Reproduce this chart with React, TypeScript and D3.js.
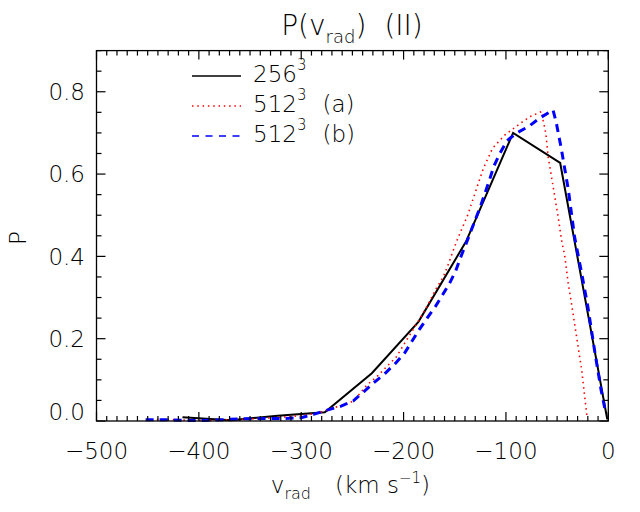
import React from 'react';
import * as d3 from 'd3';

const W = 640;
const H = 512;
const plot = { left: 96.5, right: 608.3, top: 50.6, bottom: 421 };

// 256^3 run
const v256 = [-416, -369, -323, -277, -231, -185.5, -139, -93, -47, -1];
const p256 = [0.009, 0.002, 0.013, 0.021, 0.116, 0.241, 0.436, 0.7, 0.627, 0.004];

// 512^3 (a)
const v512a = [-441, -420, -400, -380, -360, -340, -320, -300, -282, -270, -252, -244, -236, -226, -215, -207, -200, -192, -186, -179, -173, -168, -161, -156, -152, -147, -138, -122, -113, -101, -86, -77, -65, -63.7, -61, -58.8, -55.5, -52.3, -49, -45.7, -42.5, -39.2, -36, -31, -26, -21];
const p512a = [0.004, 0.003, 0.001, 0.002, 0.004, 0.006, 0.009, 0.013, 0.02, 0.031, 0.044, 0.063, 0.087, 0.108, 0.136, 0.156, 0.185, 0.217, 0.241, 0.27, 0.298, 0.322, 0.351, 0.383, 0.411, 0.444, 0.496, 0.614, 0.663, 0.695, 0.723, 0.739, 0.752, 0.731, 0.699, 0.642, 0.594, 0.545, 0.496, 0.44, 0.4, 0.335, 0.286, 0.205, 0.124, 0.015];

// 512^3 (b)
const v512b = [-452, -430, -407, -385, -362, -340, -317, -300, -288, -274, -261, -249, -239, -229, -218, -208, -199, -192, -185, -177, -169, -162, -155, -149, -145, -135, -125, -116, -112, -106, -99, -90, -77, -67, -54, -51, -46, -39, -33, -26, -20, -13, -7, -2.5];
const p512b = [0.003, 0.003, 0.001, 0.002, 0.005, 0.006, 0.006, 0.008, 0.016, 0.027, 0.036, 0.049, 0.071, 0.093, 0.116, 0.14, 0.165, 0.193, 0.221, 0.25, 0.278, 0.306, 0.335, 0.365, 0.393, 0.456, 0.521, 0.586, 0.618, 0.65, 0.681, 0.699, 0.717, 0.736, 0.756, 0.727, 0.663, 0.561, 0.448, 0.359, 0.278, 0.165, 0.075, 0.019];

const xTicks = [-500, -400, -300, -200, -100, 0];
const xTickLabels = ['\u2212500', '\u2212400', '\u2212300', '\u2212200', '\u2212100', '0'];
const yTicks = [0, 0.2, 0.4, 0.6, 0.8];
const yTickLabels = ['0.0', '0.2', '0.4', '0.6', '0.8'];

const font = '"DejaVu Sans ExtraLight", "DejaVu Sans", sans-serif';

const series = [
  { name: '256', suffix: '', v: v256, p: p256, color: '#000000', width: 2, dash: null, legendWidth: 1.3, legendDash: null },
  { name: '512', suffix: '(a)', v: v512a, p: p512a, color: '#ff0000', width: 1.6, dash: '1.5,3.8', legendWidth: 1.3, legendDash: '1.5,3.8' },
  { name: '512', suffix: '(b)', v: v512b, p: p512b, color: '#0000ff', width: 3, dash: '8,6', legendWidth: 1.5, legendDash: '7,6.5' },
];

export default function App() {
  const x = d3.scaleLinear().domain([-500, 0]).range([plot.left, plot.right]);
  const y = d3.scaleLinear().domain([0, 0.9]).range([plot.bottom, plot.top]);

  const xMinor = d3.range(-500, 1, 10).filter((d) => d % 100 !== 0);
  const yMinor = d3.range(0, 0.901, 0.05).filter((d) => Math.abs(d * 5 - Math.round(d * 5)) > 1e-6);

  const major = 9;
  const minor = 5;

  return (
    <svg width={W} height={H} style={{ position: 'absolute', left: 0, top: 0, background: '#fff' }} fontFamily={font} fontWeight={200}>
      <rect x={0} y={0} width={W} height={H} fill="#fff" />

      {/* data */}
      <g>
        {series.map((s, i) => {
          const line = d3
            .line<number>()
            .x((d, j) => x(s.v[j]))
            .y((d) => y(d));
          return (
            <path
              key={i}
              d={line(s.p) || ''}
              fill="none"
              stroke={s.color}
              strokeWidth={s.width}
              strokeDasharray={s.dash || undefined}
              strokeLinejoin="miter"
            />
          );
        })}
      </g>

      {/* frame */}
      <rect
        x={plot.left}
        y={plot.top}
        width={plot.right - plot.left}
        height={plot.bottom - plot.top}
        fill="none"
        stroke="#000"
        strokeWidth={1.3}
      />

      {/* ticks on all four sides */}
      <g stroke="#000" strokeWidth={1.2}>
        {xTicks.map((t) => (
          <g key={'xm' + t}>
            <line x1={x(t)} x2={x(t)} y1={plot.bottom} y2={plot.bottom - major} />
            <line x1={x(t)} x2={x(t)} y1={plot.top} y2={plot.top + major} />
          </g>
        ))}
        {xMinor.map((t) => (
          <g key={'xn' + t}>
            <line x1={x(t)} x2={x(t)} y1={plot.bottom} y2={plot.bottom - minor} />
            <line x1={x(t)} x2={x(t)} y1={plot.top} y2={plot.top + minor} />
          </g>
        ))}
        {yTicks.map((t) => (
          <g key={'ym' + t}>
            <line x1={plot.left} x2={plot.left + major} y1={y(t)} y2={y(t)} />
            <line x1={plot.right} x2={plot.right - major} y1={y(t)} y2={y(t)} />
          </g>
        ))}
        {yMinor.map((t) => (
          <g key={'yn' + t}>
            <line x1={plot.left} x2={plot.left + minor} y1={y(t)} y2={y(t)} />
            <line x1={plot.right} x2={plot.right - minor} y1={y(t)} y2={y(t)} />
          </g>
        ))}
      </g>

      {/* tick labels */}
      <g fontSize={23} fill="#000">
        {xTicks.map((t, i) => (
          <text key={'xl' + t} x={x(t)} y={458.5} textAnchor="middle">
            {xTickLabels[i]}
          </text>
        ))}
        {yTicks.map((t, i) => (
          <text key={'yl' + t} x={85} y={t === 0 ? plot.bottom - 1 : y(t) + 8.3} textAnchor="end">
            {yTickLabels[i]}
          </text>
        ))}
      </g>

      {/* axis titles */}
      <text x={(plot.left + plot.right) / 2 - 2} y={493} textAnchor="middle" fontSize={23}>
        v<tspan fontSize={16} dy={6}>rad</tspan>
        <tspan dy={-6} dx={24}>(km s</tspan>
        <tspan fontSize={15} dy={-10}>{'\u22121'}</tspan>
        <tspan dy={10}>)</tspan>
      </text>
      <text transform="translate(26,238) rotate(-90)" textAnchor="middle" fontSize={23}>
        P
      </text>

      {/* title */}
      <text x={352} y={35} textAnchor="middle" fontSize={28}>
        P(v<tspan fontSize={18} dy={8}>rad</tspan>
        <tspan dy={-8}>)</tspan>
        <tspan dx={18}>(II)</tspan>
      </text>

      {/* legend */}
      <g>
        {series.map((s, i) => {
          const ly = 76 + i * 30;
          return (
            <g key={'lg' + i}>
              <line
                x1={192}
                x2={241}
                y1={ly}
                y2={ly}
                stroke={s.color}
                strokeWidth={s.legendWidth}
                strokeDasharray={s.legendDash || undefined}
              />
              <text x={253} y={ly + 6} fontSize={23}>
                {s.name}
                <tspan fontSize={15} dy={-12}>3</tspan>
                <tspan dy={12} dx={s.suffix ? 16 : 0}>{s.suffix}</tspan>
              </text>
            </g>
          );
        })}
      </g>
    </svg>
  );
}
